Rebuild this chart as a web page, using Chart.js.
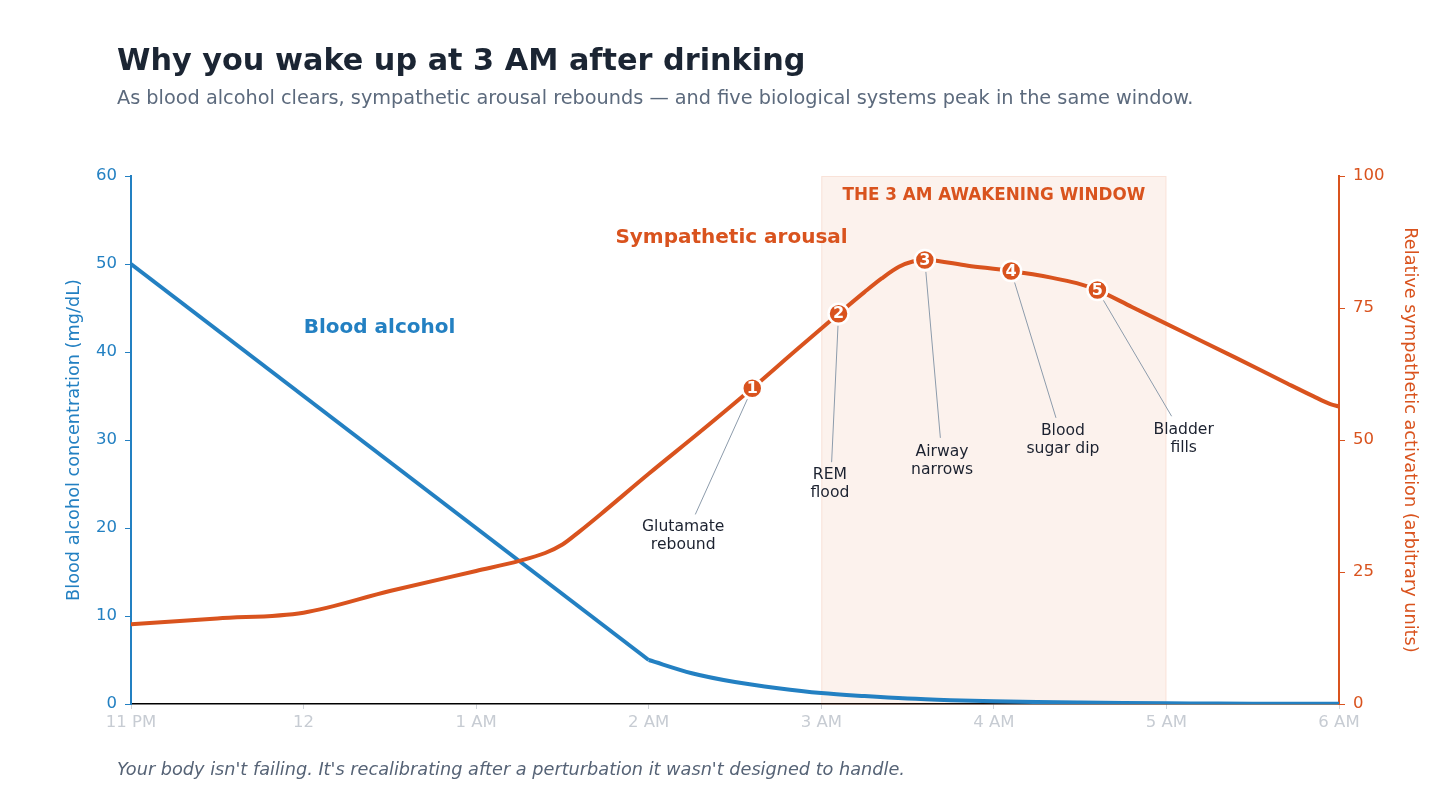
<!DOCTYPE html>
<html>
<head>
<meta charset="utf-8">
<script src="https://cdn.jsdelivr.net/npm/chart.js@4.4.1/dist/chart.umd.min.js"></script>
<style>
  html, body { margin: 0; padding: 0; background: #fff; }
  body { width: 1456px; height: 801px; position: relative; overflow: hidden; font-family: 'DejaVu Sans', sans-serif; }
  #chart { position: absolute; left: 0; top: 0; }
  .title { position: absolute; left: 117px; top: 45px; font-size: 30.3px; font-weight: bold; color: #1b2533; line-height: 1; white-space: nowrap; }
  .subtitle { position: absolute; left: 117px; top: 88px; font-size: 19.3px; color: #5c6a7d; line-height: 1; white-space: nowrap; }
  .footer { position: absolute; left: 117px; top: 761px; font-size: 17.7px; font-style: italic; color: #566376; line-height: 1; white-space: nowrap; }
</style>
</head>
<body>
<canvas id="chart" width="1456" height="801"></canvas>
<div class="title">Why you wake up at 3 AM after drinking</div>
<div class="subtitle">As blood alcohol clears, sympathetic arousal rebounds — and five biological systems peak in the same window.</div>
<div class="footer">Your body isn't failing. It's recalibrating after a perturbation it wasn't designed to handle.</div>
<script>
// hours after 11 PM
const hourLabels = ['11 PM', '12', '1 AM', '2 AM', '3 AM', '4 AM', '5 AM', '6 AM'];

const alcoholHours = [0, 3, 3.25, 3.5, 3.75, 4, 4.25, 4.5, 4.75, 5, 5.25, 5.5, 5.75, 6, 6.25, 6.5, 6.75, 7];
const alcoholValues = [50, 5.0, 3.5, 2.5, 1.8, 1.25, 0.9, 0.62, 0.44, 0.31, 0.22, 0.16, 0.11, 0.08, 0.06, 0.04, 0.03, 0.02];

const arousalHours = [0, 0.5, 1.0, 1.5, 2.0, 2.25, 2.4, 2.5, 2.6, 2.72, 3.0, 3.3, 3.6, 3.85, 4.1, 4.25, 4.35, 4.45, 4.53, 4.6, 4.85, 5.1, 5.34, 5.48, 5.6, 5.8, 6.1, 6.4, 6.7, 6.85, 6.95, 7.0];
const arousalValues = [15.1, 16.2, 17.3, 21.4, 25.2, 27.1, 28.6, 30.2, 32.7, 35.9, 43.6, 51.6, 59.8, 66.9, 73.9, 78.0, 80.6, 82.8, 83.8, 84.1, 83.0, 82.0, 80.7, 79.7, 78.4, 75.2, 70.4, 65.6, 60.7, 58.3, 56.8, 56.35];

const markerHours = [3.6, 4.1, 4.6, 5.1, 5.6];
const markerValues = [59.8, 73.9, 84.1, 82.0, 78.4];
const markerLabels = [['Glutamate', 'rebound'], ['REM', 'flood'], ['Airway', 'narrows'], ['Blood', 'sugar dip'], ['Bladder', 'fills']];

const windowStart = 4, windowEnd = 6;

const BLUE = '#2380c2';
const ORANGE = '#d9531e';
const FONT = "'DejaVu Sans', sans-serif";

// where each callout text sits (hours, right-axis units) and where its leader line ends
const callouts = [
  { x: 3.20, y: 33.5, endX: 3.27, endY: 35.9 },
  { x: 4.05, y: 43.4, endX: 4.06, endY: 45.8 },
  { x: 4.70, y: 47.7, endX: 4.69, endY: 50.4 },
  { x: 5.40, y: 51.7, endX: 5.36, endY: 54.2 },
  { x: 6.10, y: 51.9, endX: 6.03, endY: 54.5 }
];

const toXY = (xs, ys) => xs.map((x, i) => ({ x, y: ys[i] }));

const decor = {
  id: 'decor',
  beforeDatasetsDraw(chart) {
    const { ctx, chartArea: a, scales: { x, y1 } } = chart;
    const x0 = x.getPixelForValue(windowStart), x1 = x.getPixelForValue(windowEnd);
    ctx.save();
    ctx.fillStyle = 'rgba(217,83,30,0.08)';
    ctx.fillRect(x0, a.top, x1 - x0, a.bottom - a.top);
    ctx.strokeStyle = 'rgba(217,83,30,0.10)';
    ctx.lineWidth = 1;
    ctx.strokeRect(x0 + 0.5, a.top + 0.5, x1 - x0 - 1, a.bottom - a.top);

    ctx.fillStyle = ORANGE;
    ctx.font = `bold 16.8px ${FONT}`;
    ctx.textAlign = 'center';
    ctx.textBaseline = 'middle';
    ctx.fillText('THE 3 AM AWAKENING WINDOW', (x0 + x1) / 2, a.top + 20);

    // leader lines
    ctx.strokeStyle = '#8c9bab';
    ctx.lineWidth = 1;
    callouts.forEach((c, i) => {
      const px = x.getPixelForValue(markerHours[i]), py = y1.getPixelForValue(markerValues[i]);
      const ex = x.getPixelForValue(c.endX), ey = y1.getPixelForValue(c.endY);
      const d = Math.hypot(ex - px, ey - py);
      ctx.beginPath();
      ctx.moveTo(px + (ex - px) / d * 12, py + (ey - py) / d * 12);
      ctx.lineTo(ex, ey);
      ctx.stroke();
    });
    ctx.restore();
  },
  afterDatasetsDraw(chart) {
    const { ctx, scales: { x, y, y1 } } = chart;
    ctx.save();
    ctx.textAlign = 'center';
    ctx.textBaseline = 'middle';

    ctx.fillStyle = '#fff';
    ctx.font = `bold 16px ${FONT}`;
    markerHours.forEach((h, i) => {
      ctx.fillText(String(i + 1), x.getPixelForValue(h), y1.getPixelForValue(markerValues[i]) + 0.5);
    });

    ctx.fillStyle = '#1c2230';
    ctx.font = `15.6px ${FONT}`;
    callouts.forEach((c, i) => {
      const px = x.getPixelForValue(c.x), py = y1.getPixelForValue(c.y);
      markerLabels[i].forEach((t, k) => ctx.fillText(t, px, py + k * 18));
    });

    ctx.font = `bold 20px ${FONT}`;
    ctx.fillStyle = BLUE;
    ctx.fillText('Blood alcohol', x.getPixelForValue(1.44), y.getPixelForValue(42.7));
    ctx.fillStyle = ORANGE;
    ctx.fillText('Sympathetic arousal', x.getPixelForValue(3.48), y1.getPixelForValue(88.3));
    ctx.restore();
  }
};

const alcoholXY = toXY(alcoholHours, alcoholValues);

new Chart(document.getElementById('chart'), {
  type: 'line',
  data: {
    datasets: [
      { label: 'Markers', data: toXY(markerHours, markerValues), yAxisID: 'y1', showLine: false, order: 0,
        pointRadius: 10, pointHoverRadius: 10, pointBackgroundColor: ORANGE, pointBorderColor: '#fff', pointBorderWidth: 2.5 },
      { label: 'Sympathetic arousal', data: toXY(arousalHours, arousalValues), yAxisID: 'y1', order: 1,
        borderColor: ORANGE, borderWidth: 4, pointRadius: 0, cubicInterpolationMode: 'monotone', borderCapStyle: 'round' },
      // clearance: straight drop, then a smooth tail
      { label: 'Blood alcohol', data: alcoholXY.slice(0, 2), yAxisID: 'y', order: 2,
        borderColor: BLUE, borderWidth: 4, pointRadius: 0, tension: 0 },
      { label: 'Blood alcohol tail', data: alcoholXY.slice(1), yAxisID: 'y', order: 2,
        borderColor: BLUE, borderWidth: 4, pointRadius: 0, cubicInterpolationMode: 'monotone' }
    ]
  },
  options: {
    responsive: false,
    animation: false,
    devicePixelRatio: 1,
    layout: { padding: { left: 60, right: 32, top: 176, bottom: 0 } },
    plugins: { legend: { display: false }, tooltip: { enabled: false } },
    scales: {
      x: {
        type: 'linear', min: 0, max: 7,
        afterFit(s) { s.height = 97; },
        border: { color: '#000', width: 1.5 },
        grid: { drawOnChartArea: false, tickLength: 5, color: '#cfd3d8' },
        ticks: { stepSize: 1, maxRotation: 0, padding: 4, color: '#c7ccd3', font: { family: FONT, size: 16.5 },
          callback: v => hourLabels[v] }
      },
      y: {
        position: 'left', min: 0, max: 60,
        afterFit(s) { s.width = 71; },
        border: { color: BLUE, width: 2 },
        grid: { drawOnChartArea: false, tickLength: 6, color: BLUE },
        ticks: { stepSize: 10, padding: 8, color: BLUE, font: { family: FONT, size: 16.5 } },
        title: { display: true, text: 'Blood alcohol concentration (mg/dL)', color: BLUE, font: { family: FONT, size: 17.7 } }
      },
      y1: {
        position: 'right', min: 0, max: 100,
        afterFit(s) { s.width = 85; },
        border: { color: ORANGE, width: 2 },
        grid: { drawOnChartArea: false, tickLength: 6, color: ORANGE },
        ticks: { stepSize: 25, padding: 8, color: ORANGE, font: { family: FONT, size: 16.5 } },
        title: { display: true, text: 'Relative sympathetic activation (arbitrary units)', color: ORANGE, font: { family: FONT, size: 17.7 } }
      }
    }
  },
  plugins: [decor]
});
</script>
</body>
</html>
